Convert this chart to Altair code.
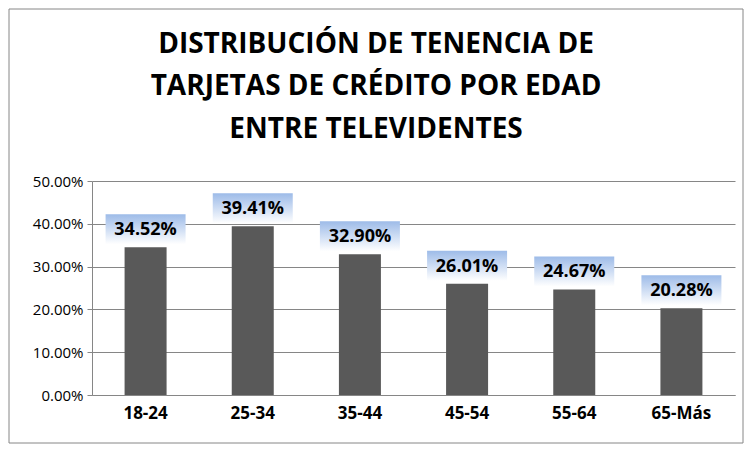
import altair as alt
import pandas as pd

edades = ["18-24", "25-34", "35-44", "45-54", "55-64", "65-Más"]
valores = [0.3452, 0.3941, 0.3290, 0.2601, 0.2467, 0.2028]
titulo = ["DISTRIBUCIÓN DE TENENCIA DE", "TARJETAS DE CRÉDITO POR EDAD", "ENTRE TELEVIDENTES"]

df = pd.DataFrame({"edad": edades, "valor": valores})

x = alt.X("edad:N", sort=edades, title=None,
          axis=alt.Axis(labelAngle=0, labelFontSize=17, labelFontWeight="bold",
                        labelColor="#000", ticks=False, domainColor="#868686",
                        labelPadding=10))
y = alt.Y("valor:Q", title=None, scale=alt.Scale(domain=[0, 0.5]),
          axis=alt.Axis(format=".2%", values=[0, 0.1, 0.2, 0.3, 0.4, 0.5],
                        labelFontSize=15, labelColor="#000", gridColor="#868686",
                        domainColor="#868686", tickColor="#868686", tickSize=5,
                        labelPadding=4))

base = alt.Chart(df).encode(x=x, y=y)

bars = base.mark_bar(color="#595959", width=42)

grad = alt.LinearGradient(gradient="linear", x1=0, x2=0, y1=0, y2=1,
                          stops=[alt.GradientStop(offset=0, color="#9dbbe8"),
                                 alt.GradientStop(offset=1, color="#ffffff")])
boxes = base.mark_rect(width=80, height=30, yOffset=-18, color=grad)
labels = base.mark_text(fontSize=18, fontWeight="bold", yOffset=-17,
                        font="Open Sans", color="#000").encode(
    text=alt.Text("valor:Q", format=".2%"))

one = alt.Chart(df.head(1))
frame = one.mark_rect(fill=None, stroke="#868686", strokeWidth=1).encode(
    x=alt.value(-83), x2=alt.value(651), y=alt.value(-172), y2=alt.value(262))

title_layers = [
    one.mark_text(fontSize=28, fontWeight="bold", font="Open Sans", color="#000",
                  baseline="middle").encode(
        x=alt.value(284), y=alt.value(yy), text=alt.value(t))
    for t, yy in zip(titulo, [-136, -94, -51])
]

chart = alt.layer(frame, bars, boxes, labels, *title_layers).properties(
    width=643, height=214,
    autosize=alt.AutoSizeParams(type="none"),
    padding={"left": 84, "top": 173, "right": 9, "bottom": 49},
).configure_view(stroke=None).configure_axis(labelFont="Open Sans")

chart.save("out.html", embed_options={"renderer": "svg", "actions": False})
